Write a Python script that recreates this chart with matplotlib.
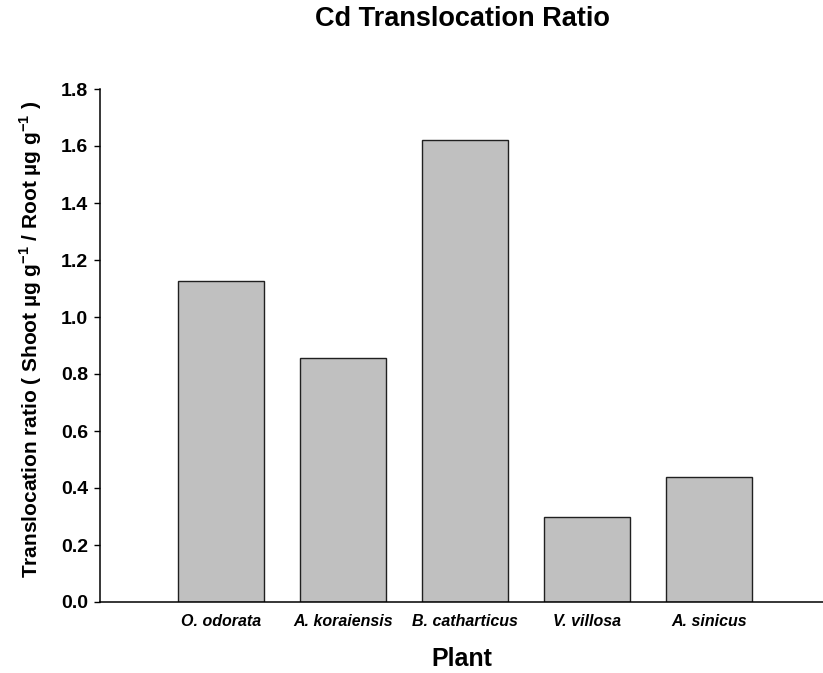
import numpy as np
import matplotlib.pyplot as plt

plt.rcParams['font.family'] = ['Liberation Sans', 'DejaVu Sans']
plt.rcParams['mathtext.fontset'] = 'custom'
plt.rcParams['mathtext.rm'] = 'Liberation Sans:bold'
plt.rcParams['mathtext.bf'] = 'Liberation Sans:bold'

plants = ['O. odorata', 'A. koraiensis', 'B. catharticus', 'V. villosa', 'A. sinicus']
ratio = [1.125, 0.855, 1.62, 0.298, 0.44]
yticks = [0.0, 0.2, 0.4, 0.6, 0.8, 1.0, 1.2, 1.4, 1.6, 1.8]

W, H = 823, 673
fig = plt.figure(figsize=(W / 100, H / 100), dpi=100)
ax = fig.add_axes([100 / W, 71 / H, 723 / W, 513 / H])

x = np.arange(len(plants))
ax.bar(x, ratio, width=0.705, color='#c0c0c0', edgecolor='#202020', linewidth=1.0)

ax.set_xlim(-0.992, 4.934)
ax.set_ylim(0, 1.8)
ax.set_yticks(yticks)
ax.set_yticklabels([f'{v:.1f}' for v in yticks], fontsize=14, fontweight='bold')
ax.set_xticks(x)
ax.set_xticklabels(plants, fontsize=11.5, fontweight='bold', fontstyle='italic')
ax.tick_params(axis='x', length=0, pad=9)
ax.tick_params(axis='y', direction='out', length=4.5, width=1, pad=4)

for s in ['top', 'right']:
    ax.spines[s].set_visible(False)
for s in ['left', 'bottom']:
    ax.spines[s].set_linewidth(1.1)

# y label as figure text so its position is fixed in pixels
fig.text(31 / W, 1 - 339 / H,
         r'Translocation ratio ( Shoot µg g$^{\mathbf{-1}}$ / Root µg g$^{\mathbf{-1}}$ )',
         rotation=90, ha='center', va='center', fontsize=15, fontweight='bold')

fig.text(462 / W, 1 - 659 / H, 'Plant', ha='center', va='center', fontsize=18, fontweight='bold')
fig.text(462 / W, 1 - 19 / H, 'Cd Translocation Ratio', ha='center', va='center',
         fontsize=19.5, fontweight='bold')

fig.savefig('out.png', dpi=100)
